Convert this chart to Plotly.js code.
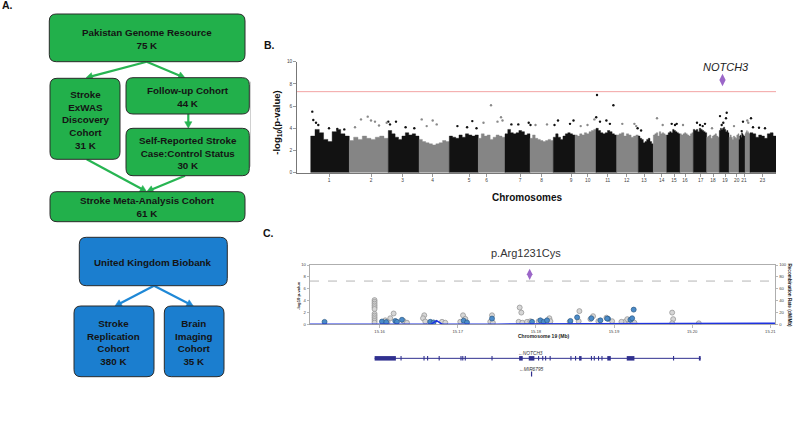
<!DOCTYPE html>
<html><head><meta charset="utf-8">
<script src="https://cdn.plot.ly/plotly-3.0.1.min.js"></script>
<style>html,body{margin:0;padding:0;background:#fff}#chart{width:800px;height:422px}</style>
</head><body><div id="chart"></div>
<script>
// ===== Panel A: cohort flowchart =====
const cohortNames = ['Pakistan Genome Resource','Stroke<br>ExWAS<br>Discovery<br>Cohort','Follow-up Cohort','Self-Reported Stroke<br>Case:Control Status','Stroke Meta-Analysis Cohort','United Kingdom Biobank','Stroke<br>Replication<br>Cohort','Brain<br>Imaging<br>Cohort'];
const cohortSizes = ['75 K','31 K','44 K','30 K','61 K','','380 K','35 K'];

// ===== Panel B: Manhattan plot (cumulative position, arbitrary units) =====
const chrLabels = ['1','2','3','4','5','6','7','8','9','10','11','12','13','14','15','16','17','18','19','20','21','22','23'];
const chrStart = [13.7,52.3,91.3,122,152.3,181.3,208,233,256.3,278,299,319.7,341.3,356.3,369.7,383,396.3,409.7,422.3,432,442,448,453];
const chrEnd   = [52.3,91.3,122,152.3,181.3,208,233,256.3,278,299,319.7,341.3,356.3,369.7,383,396.3,409.7,422.3,432,442,448,453,479];
const chrEnvelope = [
  [3.3,3.9,3.6,3.0,2.8,3.7,3.9,3.5,3.3],[2.9,3.2,3.0,3.3,3.1,3.0,3.2,3.3,3.1],[3.8,3.5,3.2,3.0,3.3,3.6,3.4,3.5,3.3],
  [3.0,2.8,2.7,2.6,2.5,2.6,2.7,2.9,2.8],[3.3,3.2,3.1,3.4,3.2,3.5,3.4,3.3,3.4],[3.1,3.5,3.3,3.4,3.0,3.2,3.4,3.3,3.2],
  [3.5,3.9,3.6,3.5,3.6,3.8,3.7,3.4,3.5],[3.1,3.4,3.1,3.0,2.9,2.8,2.9,3.0,2.9],[3.2,3.5,3.2,3.0,3.3,3.5,3.6,3.5,3.4],
  [3.4,3.3,3.5,3.4,3.6,3.5,3.7,3.8,3.9],[4.0,3.8,3.6,3.5,3.6,3.8,3.7,3.5,3.4],[3.4,3.5,3.6,3.3,3.5,3.4,3.2,3.3,3.4],
  [3.3,3.1,3.0,2.7,2.8,3.0,3.1,2.8,2.6],[3.4,3.5,3.6,3.3,3.7,3.5,3.6,3.5,3.4],[3.4,3.6,3.7,3.6,3.9,3.8,3.7,3.6,3.5],
  [3.5,3.4,3.5,3.6,3.5,3.4,3.3,3.5,3.6],[3.9,3.8,3.9,3.7,4.0,3.9,3.8,3.7,3.6],[3.2,3.3,3.4,3.1,3.3,3.4,3.5,3.3,3.2],
  [3.8,4.0,3.9,4.0,4.1,3.9,3.7,3.8,3.6],[3.2,3.4,3.2,3.0,3.3,3.2,3.1,3.4,3.5],[3.0,3.3,3.4,3.2,3.6,3.5,3.4,3.3,3.3],
  [3.5,3.6,3.7,3.8,3.6,3.7,3.6,3.5,3.5],[3.6,3.5,3.2,3.4,3.3,3.1,3.5,3.6,3.3]
];
const gapStart = [33.7,263,389];
const gapEnd   = [36.3,265.3,390.3];
const manTickPos  = [32,74,105.7,135.7,172,189.7,223,244.7,274,290.7,310.7,329.7,347,364.7,377,388,403.7,416,428,439.7,447,465.5];
const manTickText = ['1','2','3','4','5','6','7','8','9','10','11','12','13','14','15','16','17','18','19','20','21','23'];
const oddPeakPos  = [15.3,16.3,19,21.3,32,40.3,47.3,91.3,93,99,108.6,117.3,160.4,170.1,175.3,179.5,214.4,221.3,231.7,233.5,261,257.5,276.5,273,299.2,300,303,309.4,316.4,312.9,340.6,344.1,374.7,378,379.7,400,403,405.7,408,423,429.7,429,426.3,424.7,444.7,446,454,456,468,462];
const oddPeakLogP = [5.5,4.75,4.5,4.3,4.0,3.95,3.9,4.6,4.35,4.6,4.1,4.0,4.2,4.1,4.65,4.0,4.35,4.35,4.5,4.3,4.7,4.3,4.7,4.4,5.0,7.0,4.6,4.7,6.07,4.4,4.0,3.8,4.4,4.3,4.4,4.5,4.3,4.2,4.4,5.1,5.4,4.9,4.5,4.3,3.75,4.6,4.9,4.1,4.0,4.05];
const evenPeakPos  = [58,64,70.7,74,78,82,89.7,124.7,129.7,135.7,139.7,186.5,194,200.5,204,205.5,238.5,250,283.7,290.5,297.4,325.3,337.4,339.2,360,365.7,386,415,437,450.3,451.3];
const evenPeakLogP = [4.1,4.8,5.05,4.7,4.6,4.25,4.5,4.8,4.2,4.7,4.35,4.5,6.07,4.6,5.0,4.7,4.3,4.35,4.2,4.3,4.8,4.4,4.4,4.2,4.9,4.3,4.3,4.0,4.2,4.7,4.5];
const leadManPos = 425.5, leadManLogP = 8.35, leadGene = 'NOTCH3';
const gwasThreshold = 7.3;

// ===== Panel C: regional plot, chromosome 19 (Mb) =====
const grayPos = [15.15936,15.15936,15.15936,15.15936,15.15936,15.15936,15.15936,15.15936,15.15936,15.15936,15.15936,15.15936,
  15.1618,15.16137,15.16073,15.16102,15.16307,15.16351,
  15.16572,15.16556,15.16585,15.16799,15.16841,
  15.17068,15.17097,15.17033,
  15.17439,15.17417,15.1745,
  15.17793,15.17814,15.1778,15.17827,15.17887,15.1793,15.18036,15.18173,15.18186,
  15.18433,15.18557,15.18548,15.18698,15.18732,15.1880,15.18903,15.18976,
  15.19146,15.19188,15.19261,15.19095,15.1917,
  15.19744,15.19757,15.19744,15.20085];
const grayLogP = [4.1,3.8,3.5,3.2,2.9,2.6,1.8,1.5,1.2,0.9,0.6,0.3,
  1.85,1.05,0.7,0.45,0.6,0.3,
  1.55,1.05,0.5,0.45,0.3,
  1.55,0.95,0.45,
  1.55,0.45,0.3,
  2.85,2.0,0.45,0.3,0.45,0.55,0.55,1.05,0.55,
  0.45,2.25,0.55,0.9,1.4,0.55,1.15,0.55,
  0.5,0.6,0.3,0.45,0.9,
  2.0,0.9,0.2,0.2];
const bluePos = [15.15296,15.16031,15.16086,15.16201,15.16223,15.16287,15.16649,15.16691,15.17076,15.17119,15.17439,15.17951,15.18058,15.181,15.18143,15.18442,15.18528,15.1871,15.18826,15.18924,15.18912,15.1921,15.19232,15.19252];
const blueLogP = [0.44,0.5,0.4,0.6,0.45,0.8,0.45,0.35,0.65,0.35,1.0,0.45,0.7,0.45,0.7,0.6,1.2,1.05,0.7,0.95,1.0,0.8,1.05,2.5];
const leadPos = 15.17921, leadLogP = 8.43, leadName = 'p.Arg1231Cys';
const recombPos  = [15.1511,15.1600,15.1666,15.1673,15.1680,15.1750,15.1850,15.1950,15.2030,15.2106];
const recombRate = [0.6,0.6,0.6,6.5,0.6,0.6,0.7,0.9,1.4,2.0];
const geneName = 'NOTCH3', geneStart = 15.15937, geneEnd = 15.20109;
const exonStart = [15.15937,15.16268,15.16562,15.16608,15.16756,15.17035,15.17058,15.1709,15.17432,15.17786,15.17909,15.18028,15.18081,15.18118,15.18176,15.18442,15.18501,15.18553,15.18704,15.18741,15.18795,15.18839,15.18914,15.19163,15.19755,15.20086];
const exonEnd   = [15.16209,15.16282,15.16576,15.16622,15.1677,15.17049,15.17072,15.17104,15.17446,15.17832,15.17981,15.18042,15.18095,15.18132,15.1819,15.18456,15.18515,15.18585,15.18718,15.18755,15.18809,15.18853,15.18959,15.19261,15.19769,15.20109];
const mirName = 'MIR6795', mirPos = 15.17945;

// ================= build =================
const FONT = 'Liberation Sans, Arial, Helvetica, sans-serif';
const W = 800, H = 422;
const PX = v => v / W, PY = v => 1 - v / H;

function rrect(x0, y0, x1, y1, r) {
  return `M ${PX(x0+r)},${PY(y0)} L ${PX(x1-r)},${PY(y0)} Q ${PX(x1)},${PY(y0)} ${PX(x1)},${PY(y0+r)} ` +
         `L ${PX(x1)},${PY(y1-r)} Q ${PX(x1)},${PY(y1)} ${PX(x1-r)},${PY(y1)} L ${PX(x0+r)},${PY(y1)} ` +
         `Q ${PX(x0)},${PY(y1)} ${PX(x0)},${PY(y1-r)} L ${PX(x0)},${PY(y0+r)} Q ${PX(x0)},${PY(y0)} ${PX(x0+r)},${PY(y0)} Z`;
}
const GREEN = '#22b04b', BLUE = '#1b7ecf';
const ARROW_GREEN = '#27b552', ARROW_BLUE = '#1f88d6';
const boxes = [
  [49.3,14,245,61.7,GREEN],[50,78.3,120,159.3,GREEN],[126,77.7,249.3,114,GREEN],[126,128.3,249.3,175.7,GREEN],
  [50,191.7,245,221.7,GREEN],[79.3,237.3,227.3,285.7,BLUE],[74,306,154,376.7,BLUE],[164.3,306,224,376.7,BLUE]
];
const shapes = [], annotations = [];
// arrows as line + triangular head (drawn below boxes)
const arrows = [
  [146.7,61.7,86,77.8,ARROW_GREEN],[146.7,61.7,185,77.8,ARROW_GREEN],[188.3,114,188.3,128.2,ARROW_GREEN],
  [86.7,159.3,146.7,191.7,ARROW_GREEN],[185,175.7,146.7,191.7,ARROW_GREEN],
  [154,285.7,115,306,ARROW_BLUE],[154,285.7,193.3,306,ARROW_BLUE]
];
arrows.forEach(a => {
  const [tx, ty, hx, hy, col] = a;
  const len = Math.hypot(hx - tx, hy - ty), dx = (hx - tx) / len, dy = (hy - ty) / len;
  const L = 6.5, hw = 3.6;
  const bx0 = hx - dx * L, by0 = hy - dy * L;
  shapes.push({type:'line', xref:'paper', yref:'paper', x0:PX(tx), y0:PY(ty), x1:PX(bx0 + dx), y1:PY(by0 + dy),
    line:{color:col, width:2.2}});
  shapes.push({type:'path', xref:'paper', yref:'paper', fillcolor:col, line:{color:col, width:0.5},
    path:`M ${PX(hx)},${PY(hy)} L ${PX(bx0 - dy*hw)},${PY(by0 + dx*hw)} L ${PX(bx0 + dy*hw)},${PY(by0 - dx*hw)} Z`});
});
boxes.forEach((b, i) => {
  shapes.push({type:'path', xref:'paper', yref:'paper', path: rrect(b[0],b[1],b[2],b[3],7),
    fillcolor:b[4], line:{color:'#2a2a2a', width:1}});
  const txt = cohortSizes[i] ? cohortNames[i] + '<br>' + cohortSizes[i] : cohortNames[i];
  annotations.push({xref:'paper', yref:'paper', x:PX((b[0]+b[2])/2), y:PY((b[1]+b[3])/2 + 0.8),
    text:'<b>'+txt+'</b>', showarrow:false, xanchor:'center', yanchor:'middle',
    font:{family:FONT, size:9.8, color:'#141414'}});
});
// panel letters
[['A.',0,5],['B.',262,45],['C.',261,233]].forEach(p => {
  annotations.push({xref:'paper', yref:'paper', x:PX(p[1]), y:PY(p[2]), text:'<b>'+p[0]+'</b>', showarrow:false,
    xanchor:'left', yanchor:'middle', font:{family:FONT, size:10.5, color:'#111'}});
});

// ---- Manhattan: one stepped, filled envelope per chromosome ----
const traces = [];
chrLabels.forEach((c, i) => {
  const env = chrEnvelope[i], n = env.length, step = (chrEnd[i] - chrStart[i]) / n;
  const xs = [chrStart[i]], ys = [0];
  env.forEach((h, k) => { xs.push(chrStart[i] + k * step); ys.push(h); });
  xs.push(chrEnd[i]); ys.push(env[n - 1]);
  xs.push(chrEnd[i]); ys.push(0);
  const col = (i % 2 === 0) ? '#121212' : '#858585';
  traces.push({type:'scatter', mode:'lines', x:xs, y:ys, fill:'toself', fillcolor:col,
    line:{color:col, width:0.4, shape:'hv'}, xaxis:'x', yaxis:'y', hoverinfo:'skip'});
});
const gapH = gapStart.map((s) => {
  const i = chrStart.findIndex((cs, k) => s >= cs && s < chrEnd[k]);
  return Math.max(...chrEnvelope[i]) + 0.2;
});
traces.push(
  {type:'bar', x:gapStart.map((s,j)=>(s+gapEnd[j])/2), y:gapH, width:gapStart.map((s,j)=>gapEnd[j]-s), marker:{color:'#ffffff', line:{width:0}}, xaxis:'x', yaxis:'y'},
  {type:'scatter', mode:'markers', x:oddPeakPos, y:oddPeakLogP, marker:{size:2.4, color:'#121212'}, xaxis:'x', yaxis:'y'},
  {type:'scatter', mode:'markers', x:evenPeakPos, y:evenPeakLogP, marker:{size:2.4, color:'#8a8a8a'}, xaxis:'x', yaxis:'y'},
  {type:'scatter', mode:'markers', x:[leadManPos], y:[leadManLogP], marker:{symbol:'diamond-tall', size:9, color:'#9b66c8'}, xaxis:'x', yaxis:'y'},
  // ---- Panel C ----
  {type:'scatter', mode:'markers', x:grayPos, y:grayLogP, marker:{size:5, color:'#d6d6d6', line:{color:'#8f8f8f', width:0.7}}, xaxis:'x2', yaxis:'y2'},
  {type:'scatter', mode:'markers', x:bluePos, y:blueLogP, marker:{size:5, color:'#4b8bc8', line:{color:'#2d5a85', width:0.7}}, xaxis:'x2', yaxis:'y2'},
  {type:'scatter', mode:'markers', x:[leadPos], y:[leadLogP], marker:{symbol:'diamond-tall', size:8, color:'#9b66c8'}, xaxis:'x2', yaxis:'y2'},
  {type:'scatter', mode:'lines', x:recombPos, y:recombRate, line:{color:'#1f33e0', width:1.5}, xaxis:'x2', yaxis:'y3'},
  // gene track
  {type:'scatter', mode:'lines', x:[geneStart, geneEnd], y:[1,1], line:{color:'#30308f', width:1}, xaxis:'x4', yaxis:'y4'},
  {type:'scatter', mode:'lines', x:exonStart.flatMap((s,i)=>[s, exonEnd[i], null]), y:exonStart.flatMap(()=>[1,1,null]),
    line:{color:'#30308f', width:4.5}, xaxis:'x4', yaxis:'y4', connectgaps:false},
  {type:'scatter', mode:'lines', x:[mirPos, mirPos], y:[1.84, 2.16], line:{color:'#30308f', width:1.2}, xaxis:'x4', yaxis:'y4'}
);

// Manhattan annotations
annotations.push({xref:'x', yref:'y', x:leadManPos + 3.3, y:9.55, text:'<i>'+leadGene+'</i>', showarrow:false,
  font:{family:FONT, size:11, color:'#222'}, xanchor:'center', yanchor:'middle'});
annotations.push({xref:'paper', yref:'paper', x:PX(526.5), y:PY(197.3), text:'<b>Chromosomes</b>', showarrow:false,
  font:{family:FONT, size:10, color:'#111'}, xanchor:'center', yanchor:'middle'});
annotations.push({xref:'paper', yref:'paper', x:PX(276.7), y:PY(123), text:'<b>-log<sub>10</sub>(p-value)</b>', showarrow:false,
  textangle:-90, font:{family:FONT, size:9.5, color:'#111'}, xanchor:'center', yanchor:'middle'});
// Panel C annotations
annotations.push({xref:'paper', yref:'paper', x:PX(526), y:PY(253.3), text:leadName, showarrow:false,
  font:{family:FONT, size:11, color:'#333'}, xanchor:'center', yanchor:'middle'});
annotations.push({xref:'paper', yref:'paper', x:PX(543), y:PY(336.3), text:'<b>Chromosome 19 (Mb)</b>', showarrow:false,
  font:{family:FONT, size:5, color:'#222'}, xanchor:'center', yanchor:'middle'});
annotations.push({xref:'paper', yref:'paper', x:PX(298), y:PY(296), text:'<b>-log10 p-value</b>', showarrow:false,
  textangle:-90, font:{family:FONT, size:4.2, color:'#222'}, xanchor:'center', yanchor:'middle'});
annotations.push({xref:'paper', yref:'paper', x:PX(789.5), y:PY(295), text:'<b>Recombination Rate (cM/Mb)</b>', showarrow:false,
  textangle:90, font:{family:FONT, size:4.6, color:'#222'}, xanchor:'center', yanchor:'middle'});
annotations.push({xref:'x4', yref:'y4', x:(geneStart+geneEnd)/2, y:1, yshift:4.6, xshift:-7, text:'<i>\u2190'+geneName+'</i>', showarrow:false,
  font:{family:FONT, size:4.8, color:'#333'}, xanchor:'center', yanchor:'middle'});
annotations.push({xref:'x4', yref:'y4', x:mirPos, y:2, yshift:5, text:'<i>\u2190'+mirName+'</i>', showarrow:false,
  font:{family:FONT, size:4.8, color:'#333'}, xanchor:'center', yanchor:'middle'});

shapes.push({type:'line', xref:'x domain', yref:'y', x0:0, x1:1, y0:gwasThreshold, y1:gwasThreshold, line:{color:'#f2a3a3', width:1}});
shapes.push({type:'line', xref:'x2 domain', yref:'y2', x0:0, x1:1, y0:gwasThreshold, y1:gwasThreshold, line:{color:'#b5b5b5', width:1, dash:'dash'}});
shapes.push({type:'line', xref:'paper', yref:'paper', x0:PX(250.5), x1:PX(250.5), y0:PY(81.7), y1:PY(166.7), line:{color:'#d0d0d0', width:1}});

const tickFont = {family:FONT, size:4.8, color:'#444'};
const smallTick = {family:FONT, size:4.2, color:'#444'};
const layout = {
  width:W, height:H, margin:{l:0, r:0, t:0, b:0}, paper_bgcolor:'#fff', plot_bgcolor:'rgba(0,0,0,0)',
  showlegend:false, barmode:'overlay', font:{family:FONT},
  xaxis:{domain:[PX(297), PX(776)], range:[0,479], anchor:'y', showgrid:false, zeroline:false, showline:true,
    linecolor:'#555', linewidth:0.8, ticks:'outside', ticklen:3, tickwidth:0.6, tickcolor:'#555', tickangle:0,
    tickmode:'array', tickvals:manTickPos, ticktext:manTickText, tickfont:tickFont},
  yaxis:{domain:[PY(172.7), PY(61.7)], range:[0,10], anchor:'x', showgrid:false, zeroline:false, showline:true,
    linecolor:'#555', linewidth:0.8, ticks:'outside', ticklen:3, tickwidth:0.6, tickcolor:'#555', tickangle:0,
    tickmode:'array', tickvals:[0,2,4,6,8,10], tickfont:tickFont},
  xaxis2:{domain:[PX(310), PX(775)], range:[15.1511, 15.2106], anchor:'y2', showgrid:false, zeroline:false, showline:true, mirror:true,
    linecolor:'#9a9a9a', linewidth:0.8, ticks:'outside', ticklen:2.5, tickwidth:0.6, tickcolor:'#888', tickangle:0,
    tickmode:'array', tickvals:[15.16,15.17,15.18,15.19,15.20,15.21], ticktext:['15.16','15.17','15.18','15.19','15.20','15.21'],
    tickfont:smallTick},
  yaxis2:{domain:[PY(324.5), PY(265)], range:[0,10], anchor:'x2', showgrid:false, zeroline:false, showline:true,
    linecolor:'#9a9a9a', linewidth:0.8, ticks:'outside', ticklen:2.5, tickwidth:0.6, tickcolor:'#888', tickangle:0,
    tickmode:'array', tickvals:[0,2,4,6,8,10], tickfont:smallTick},
  yaxis3:{overlaying:'y2', side:'right', anchor:'x2', range:[0,100], showgrid:false, zeroline:false, showline:true,
    linecolor:'#9a9a9a', linewidth:0.8, ticks:'outside', ticklen:2.5, tickwidth:0.6, tickcolor:'#888', tickangle:0,
    tickmode:'array', tickvals:[0,20,40,60,80,100], tickfont:smallTick},
  xaxis4:{domain:[PX(310), PX(775)], matches:'x2', anchor:'y4', visible:false},
  yaxis4:{domain:[PY(385), PY(345)], range:[2.7,0.15], anchor:'x4', visible:false},
  shapes:shapes, annotations:annotations
};
Plotly.newPlot('chart', traces, layout, {staticPlot:true, displayModeBar:false});
</script></body></html>
